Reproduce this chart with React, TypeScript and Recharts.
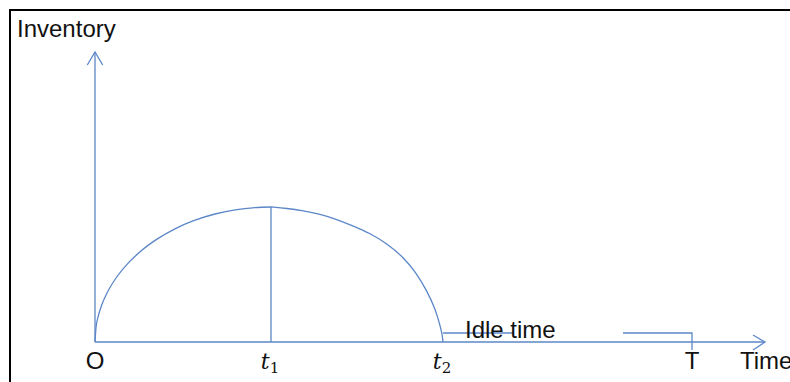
import { ComposedChart, XAxis, YAxis, Line, ReferenceDot } from 'recharts';

// one data unit = one pixel; origin O sits where the two axes meet
const yAxisLine = [{ x: 0, y: 0 }, { x: 0, y: 290 }];
const yArrow = [{ x: -7.7, y: 277 }, { x: 0, y: 290 }, { x: 7.7, y: 277 }];
const xAxisLine = [{ x: 0, y: 0 }, { x: 670, y: 0 }];
const xArrow = [{ x: 658, y: 7 }, { x: 670, y: 0 }, { x: 658, y: -8 }];

// inventory build-up (0 .. t1)
const buildUp = [
  { x: 0, y: 0 }, { x: 1, y: 14.4 }, { x: 3, y: 24.8 }, { x: 7, y: 37.7 }, { x: 12, y: 49 },
  { x: 20, y: 62.5 }, { x: 30, y: 75.4 }, { x: 45, y: 90.2 }, { x: 62, y: 102.9 },
  { x: 80, y: 113.2 }, { x: 100, y: 121.8 }, { x: 120, y: 128 }, { x: 140, y: 132.1 },
  { x: 160, y: 134.4 }, { x: 176, y: 135 },
];
// depletion (t1 .. t2)
const depletion = [
  { x: 176, y: 135 }, { x: 191.7, y: 133.7 }, { x: 208.3, y: 131.3 }, { x: 225, y: 128 },
  { x: 241.7, y: 122.7 }, { x: 258.3, y: 116 }, { x: 275, y: 108.7 }, { x: 291.7, y: 98.7 },
  { x: 308.3, y: 85 }, { x: 321.7, y: 68.5 }, { x: 331.7, y: 51.5 }, { x: 340, y: 34 },
  { x: 345, y: 17 }, { x: 347.3, y: 7 }, { x: 348, y: 0 },
];
const peakLine = [{ x: 176, y: 0 }, { x: 176, y: 135 }];
const idleLeft = [{ x: 348, y: 9 }, { x: 418, y: 9 }];
const idleRight = [{ x: 528, y: 9 }, { x: 597, y: 9 }, { x: 597, y: -8 }];

const tickValues = [0, 176, 348, 597];
const tickLabels = ['O', 't', 't', 'T'];
const tickSubs = ['', '1', '2', ''];

const LINE = '#5b87c8';
const SANS = '"Liberation Sans", Arial, sans-serif';
const MATH = '"DejaVu Serif", serif';

function Mark(props: any) {
  const { viewBox, text, sub, anchor = 'middle', dy = 0 } = props;
  const cx = viewBox.x + (viewBox.width || 0) / 2;
  const cy = viewBox.y + (viewBox.height || 0) / 2;
  if (sub) {
    return (
      <text x={cx - 1} y={cy + dy} textAnchor="middle" fill="#111" fontFamily={MATH}>
        <tspan fontStyle="italic" fontSize={22}>{text}</tspan>
        <tspan fontSize={15} dy={4}>{sub}</tspan>
      </text>
    );
  }
  return (
    <text x={cx} y={cy + dy} textAnchor={anchor} fontFamily={SANS} fontSize={24} fill="#111">
      {text}
    </text>
  );
}

const seg = (data: { x: number; y: number }[], key: string, type: any = 'linear') => (
  <Line
    key={key}
    data={data}
    dataKey="y"
    type={type}
    stroke={LINE}
    strokeWidth={1.3}
    dot={false}
    activeDot={false}
    legendType="none"
    isAnimationActive={false}
  />
);

export default function App() {
  return (
    <div style={{ position: 'absolute', left: 0, top: 0, width: 790, height: 382, overflow: 'hidden', background: '#fff' }}>
      <div
        style={{
          position: 'absolute', left: 9, top: 9, width: 800, height: 400,
          borderLeft: '2px solid #000', borderTop: '2px solid #000',
        }}
      />
      <div style={{ position: 'absolute', left: 0, top: 0 }}>
        <ComposedChart width={790} height={382} margin={{ top: 0, right: 0, bottom: 0, left: 0 }}>
          <XAxis type="number" dataKey="x" domain={[-95, 695]} allowDataOverflow hide />
          <YAxis type="number" domain={[-40, 342]} allowDataOverflow hide />
          {seg(yAxisLine, 'ya')}
          {seg(yArrow, 'yar')}
          {seg(xAxisLine, 'xa')}
          {seg(xArrow, 'xar')}
          {seg(buildUp, 'up', 'monotone')}
          {seg(depletion, 'down', 'basis')}
          {seg(peakLine, 'peak')}
          {seg(idleLeft, 'il')}
          {seg(idleRight, 'ir')}
          {tickValues.map((v, i) => (
            <ReferenceDot
              key={`t${i}`}
              x={v}
              y={0}
              r={0}
              fill="none"
              stroke="none"
              ifOverflow="visible"
              label={<Mark text={tickLabels[i]} sub={tickSubs[i]} dy={27} />}
            />
          ))}
          <ReferenceDot x={645} y={0} r={0} fill="none" stroke="none" ifOverflow="visible"
            label={<Mark text="Time" anchor="start" dy={27} />} />
          <ReferenceDot x={370} y={0} r={0} fill="none" stroke="none" ifOverflow="visible"
            label={<Mark text="Idle time" anchor="start" dy={-4.5} />} />
          <ReferenceDot x={-78} y={290} r={0} fill="none" stroke="none" ifOverflow="visible"
            label={<Mark text="Inventory" anchor="start" dy={-15} />} />
        </ComposedChart>
      </div>
    </div>
  );
}
